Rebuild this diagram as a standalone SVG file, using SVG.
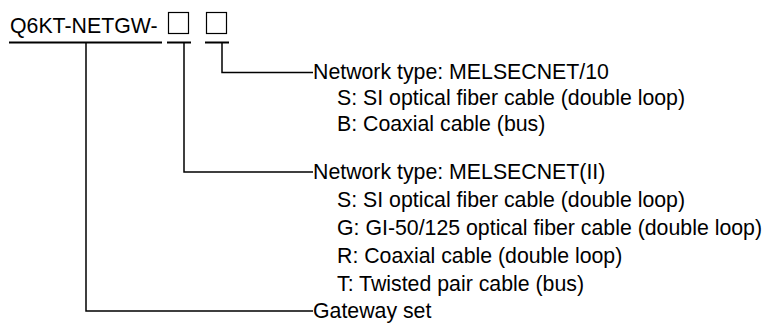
<svg xmlns="http://www.w3.org/2000/svg" width="765" height="323" viewBox="0 0 765 323">
<style>
text{font-family:"Liberation Sans",Arial,sans-serif;font-size:21.3px;fill:#000}
.ln{stroke:#000;stroke-width:1.5;fill:none}
.ul{stroke:#000;stroke-width:2;fill:none}
.box{stroke:#000;stroke-width:1.2;fill:#fff}
</style>
<rect width="765" height="323" fill="#fff"/>
<g id="model">
<text x="10" y="33">Q6KT-NETGW-</text>
<rect class="box" x="168.5" y="12.5" width="20" height="21"/>
<rect class="box" x="206.5" y="12.5" width="20" height="21"/>
<line class="ul" x1="9" y1="42.5" x2="162" y2="42.5"/>
<line class="ul" x1="167" y1="42.5" x2="191" y2="42.5"/>
<line class="ul" x1="205" y1="42.5" x2="229" y2="42.5"/>
</g>
<g id="connectors">
<polyline class="ln" points="222,42.5 222,72.5 313,72.5"/>
<polyline class="ln" points="184,42.5 184,172 313,172"/>
<polyline class="ln" points="86,42.5 86,311 313,311"/>
</g>
<g id="net10">
<text x="313" y="79">Network type: MELSECNET/10</text>
<text x="337" y="105">S: SI optical fiber cable (double loop)</text>
<text x="337" y="131">B: Coaxial cable (bus)</text>
</g>
<g id="net2">
<text x="313" y="179">Network type: MELSECNET(II)</text>
<text x="337" y="207">S: SI optical fiber cable (double loop)</text>
<text x="337" y="235">G: GI-50/125 optical fiber cable (double loop)</text>
<text x="337" y="263">R: Coaxial cable (double loop)</text>
<text x="337" y="290.5">T: Twisted pair cable (bus)</text>
</g>
<g id="gateway">
<text x="313" y="318">Gateway set</text>
</g>
</svg>
